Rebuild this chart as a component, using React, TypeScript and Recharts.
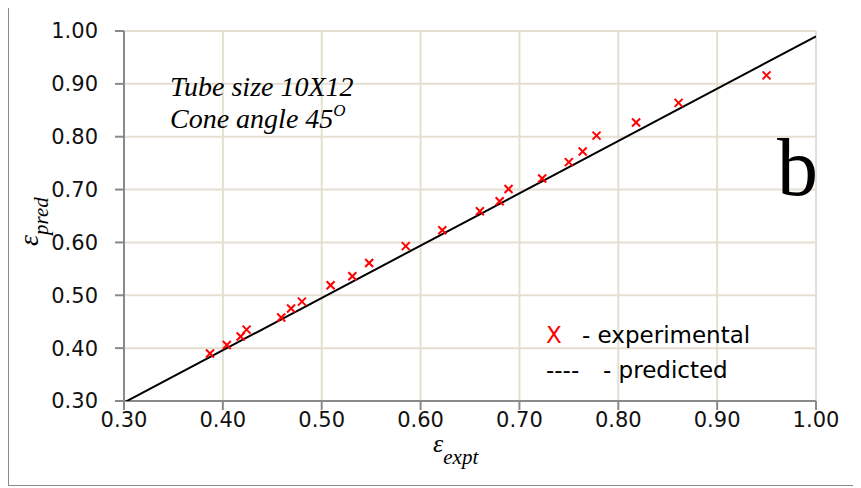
import { CartesianGrid, Scatter, ScatterChart, XAxis, YAxis } from "recharts";

// experimental effectiveness vs predicted
const exptValues = [
  0.387, 0.404, 0.418, 0.424, 0.459, 0.469, 0.48, 0.509, 0.531, 0.548, 0.585,
  0.622, 0.66, 0.68, 0.689, 0.723, 0.75, 0.764, 0.778, 0.818, 0.861, 0.95,
];
const predValues = [
  0.39, 0.406, 0.422, 0.435, 0.458, 0.475, 0.488, 0.519, 0.536, 0.561, 0.593,
  0.623, 0.659, 0.678, 0.701, 0.721, 0.752, 0.772, 0.802, 0.827, 0.864, 0.916,
];
// predicted line end points
const fitX = [0.3, 1.0];
const fitY = [0.297, 0.99];
const axisTicks = [0.3, 0.4, 0.5, 0.6, 0.7, 0.8, 0.9, 1.0];

const points = exptValues.map((x, i) => ({ x, y: predValues[i] }));
const fitLine = fitX.map((x, i) => ({ x, y: fitY[i] }));

const AXIS = "#8a8a8a";
const GRID = "#e4dfd0";
const SANS = "'DejaVu Sans', sans-serif";
const SERIF = "'Liberation Serif', 'DejaVu Serif', serif";

function Cross(props: any) {
  const { cx, cy } = props;
  const r = 4;
  return (
    <g stroke="#ff0000" strokeWidth={2}>
      <line x1={cx - r} y1={cy - r} x2={cx + r} y2={cy + r} />
      <line x1={cx - r} y1={cy + r} x2={cx + r} y2={cy - r} />
    </g>
  );
}

const tickStyle = { fontSize: 21, fontFamily: SANS, fill: "#111" };

export default function App() {
  return (
    <div
      style={{
        position: "relative",
        width: 853,
        height: 479,
        boxSizing: "border-box",
        borderLeft: `1px solid ${AXIS}`,
        borderTop: `1px solid ${AXIS}`,
        borderBottom: `1px solid ${AXIS}`,
        marginTop: -1,
      }}
    >
      <ScatterChart width={852} height={477} margin={{ top: 23, right: 45, left: 0, bottom: 0 }}>
        <CartesianGrid stroke={GRID} strokeWidth={2} horizontalPoints={undefined} />
        <XAxis
          type="number"
          dataKey="x"
          domain={[0.3, 1]}
          ticks={axisTicks}
          allowDataOverflow
          height={84}
          tickFormatter={(v) => v.toFixed(2)}
          tick={tickStyle}
          stroke={AXIS}
          strokeWidth={2}
          tickSize={9}
          tickMargin={2}
        />
        <YAxis
          type="number"
          dataKey="y"
          domain={[0.3, 1]}
          ticks={axisTicks}
          allowDataOverflow
          width={115}
          tickFormatter={(v) => v.toFixed(2)}
          tick={tickStyle}
          stroke={AXIS}
          strokeWidth={2}
          tickSize={9}
          tickMargin={17}
        />
        <Scatter
          data={fitLine}
          line={{ stroke: "#000", strokeWidth: 2 }}
          shape={() => <g />}
          isAnimationActive={false}
        />
        <Scatter data={points} shape={<Cross />} isAnimationActive={false} />
      </ScatterChart>

      <svg
        width={861}
        height={488}
        style={{ position: "absolute", left: -9, top: -8, pointerEvents: "none", overflow: "visible" }}
      >
        <g fontFamily={SERIF} fontStyle="italic" fontSize={28} fill="#000">
          <text x={170} y={96}>Tube size 10X12</text>
          <text x={170} y={128}>
            Cone angle 45
            <tspan fontSize={17} dy={-12}>O</tspan>
          </text>
        </g>
        <text x={818} y={195} textAnchor="end" fontFamily={SERIF} fontSize={82} fill="#000">
          b
        </text>

        <g fontFamily={SANS} fontSize={23} fill="#000">
          <text x={546} y={343} fill="#ff0000">X</text>
          <text x={582} y={343}>- experimental</text>
          <text x={546} y={378}>----</text>
          <text x={603} y={378}>- predicted</text>
        </g>

        <text x={433} y={452} fontFamily={SERIF} fontStyle="italic" fontSize={26} fill="#000">
          ε<tspan fontSize={21} dy={12}>expt</tspan>
        </text>
        <text
          x={38}
          y={246}
          transform="rotate(-90 38 246)"
          fontFamily={SERIF}
          fontStyle="italic"
          fontSize={28}
          fill="#000"
        >
          ε<tspan fontSize={21} dy={10}>pred</tspan>
        </text>
      </svg>
    </div>
  );
}
